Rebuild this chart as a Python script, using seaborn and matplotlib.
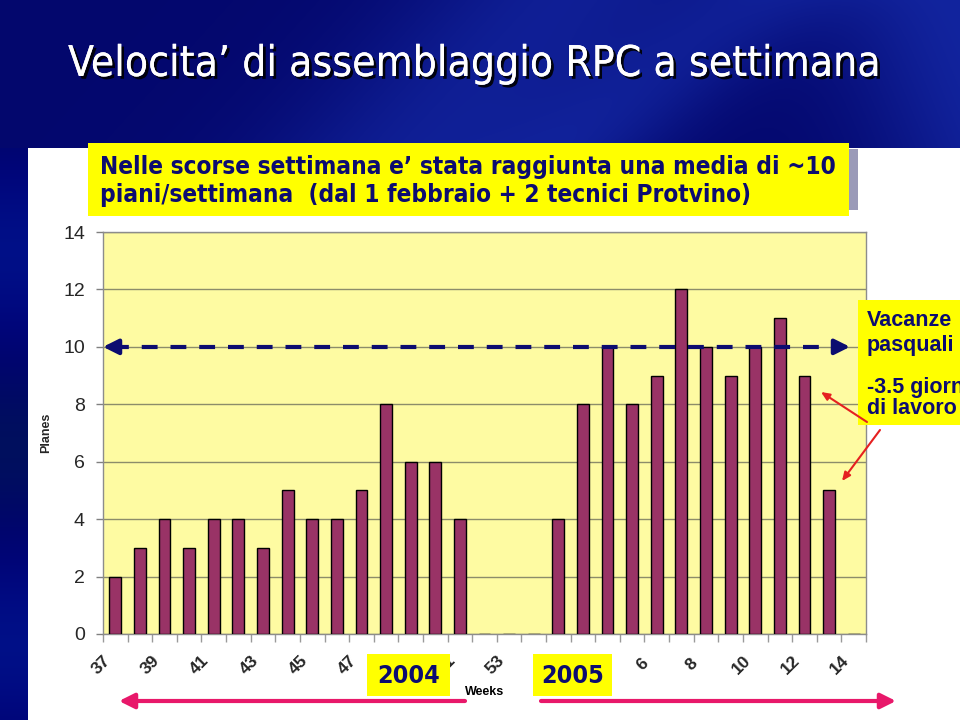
import numpy as np
import pandas as pd
import matplotlib
matplotlib.use("Agg")
import matplotlib.pyplot as plt
import seaborn as sns
from matplotlib import patheffects as pe
from matplotlib import transforms as mtrans
from matplotlib import font_manager as fm
from matplotlib.patches import Rectangle

# ---------------- data ----------------
weeks = ["37", "38", "39", "40", "41", "42", "43", "44", "45", "46", "47", "48",
         "49", "50", "51", "52", "53",
         "1", "2", "3", "4", "5", "6", "7", "8", "9", "10", "11", "12", "13", "14"]
planes = [2, 3, 4, 3, 4, 4, 3, 5, 4, 4, 5, 8, 6, 6, 4, 0, 0,
          0, 4, 8, 10, 8, 9, 12, 10, 9, 10, 11, 9, 5, 0]
y_ticks = [0, 2, 4, 6, 8, 10, 12, 14]
average = 10
title = "Velocita\u2019 di assemblaggio RPC a settimana"
subtitle = ("Nelle scorse settimana e\u2019 stata raggiunta una media di ~10\n"
            "piani/settimana  (dal 1 febbraio + 2 tecnici Protvino)")
note_lines = ["Vacanze", "pasquali", "-3.5 giorni", "di lavoro"]
year_labels = ["2004", "2005"]
x_label = "Weeks"
y_label = "Planes"

df = pd.DataFrame({"week": weeks, "planes": planes})

# ---------------- fonts ----------------
sns.set_style("white")
names = {f.name for f in fm.fontManager.ttflist}
if "Liberation Sans Narrow" in names:
    NARROW = dict(family=["Liberation Sans Narrow", "DejaVu Sans"])
else:
    NARROW = dict(family=["DejaVu Sans"], stretch="condensed")
plt.rcParams["font.family"] = ["Liberation Sans", "DejaVu Sans"]

NAVY = "#0C0C70"
BAR = "#993366"
PINK = "#E8186A"
RED = "#E52020"
YEL = "#FFFF00"

W, H = 960, 720
fig = plt.figure(figsize=(9.6, 7.2), dpi=100)
fig.patch.set_facecolor("white")

# ---------------- background (slide) ----------------
bg = fig.add_axes([0, 0, 1, 1], zorder=-5)
bg.set_xlim(0, W)
bg.set_ylim(H, 0)
bg.axis("off")
xx, yy = np.meshgrid(np.linspace(0, W, 480), np.linspace(0, 148, 80))
v = (0.15
     + 0.45 * np.exp(-((xx + 0.9 * yy - 560) / 160) ** 2)
     + 0.30 * np.exp(-((xx + 1.2 * yy - 760) / 90) ** 2)
     + 0.55 * np.exp(-((xx - 0.4 * yy - 960) / 140) ** 2))
v = np.clip(v, 0, 1)
dark = np.array([0.0, 0.0, 0.38])
bright = np.array([0.10, 0.20, 0.72])
img = dark[None, None, :] + v[..., None] * (bright - dark)[None, None, :]
bg.imshow(img, extent=[0, W, 148, 0], aspect="auto", interpolation="bilinear")
ys = np.linspace(0, 1, 100)
strip = np.zeros((100, 2, 3))
strip[:, :, 2] = (0.45 + 0.08 * np.sin(ys * 9))[:, None]
strip[:, :, 1] = (0.02 + 0.04 * np.sin(ys * 9) ** 2)[:, None]
bg.imshow(strip, extent=[0, 28, H, 148], aspect="auto", interpolation="bilinear")

# ---------------- main chart ----------------
ax = fig.add_axes([103 / W, 1 - 634 / H, 763 / W, 402 / H], zorder=1)
ax.set_facecolor("#FEFBA2")
sns.barplot(data=df, x="week", y="planes", order=weeks, color=BAR, saturation=1,
            edgecolor="black", linewidth=1.0, width=0.48, ax=ax, zorder=3)
ax.set_xlim(-0.5, len(weeks) - 0.5)
ax.set_ylim(0, 14)
ax.set_yticks(y_ticks)
ax.set_yticklabels([str(t) for t in y_ticks], fontsize=14)
ax.tick_params(axis="y", length=5, width=1, color="#808080", pad=8, left=True)
ax.yaxis.grid(True, color="#8C8C6A", lw=1)
ax.xaxis.grid(False)
ax.set_axisbelow(True)
for s in ax.spines.values():
    s.set_color("#8C8C8C")
    s.set_linewidth(1)

major = list(range(0, len(weeks), 2))
ax.set_xticks(major)
ax.set_xticklabels(weeks[::2], fontsize=12.5, fontweight="bold", rotation=45,
                   ha="center", va="center")
ax.set_xticks(np.arange(-0.5, len(weeks), 1), minor=True)
ax.tick_params(axis="x", which="major", length=0, pad=22)
ax.tick_params(axis="x", which="minor", length=6, width=1, color="#9A9A9A", bottom=True)
off = mtrans.ScaledTranslation(-14 / 100, 0, fig.dpi_scale_trans)
for lab in ax.get_xticklabels():
    lab.set_transform(lab.get_transform() + off)
ax.set_xlabel("")
ax.set_ylabel(y_label, fontsize=9, fontweight="bold")
ax.yaxis.set_label_coords(-0.067, 0.5)

# dashed average line with arrowheads
ax.plot([-0.1, 29.3], [average, average], color=NAVY, lw=3,
        dashes=(3.8, 3.1), solid_capstyle="butt", zorder=4, clip_on=False)
ax.annotate("", xy=(-0.5, average), xytext=(0.1, average),
            arrowprops=dict(arrowstyle="-|>,head_length=0.9,head_width=0.45",
                            color=NAVY, lw=3, shrinkA=0, shrinkB=0), zorder=5)
ax.annotate("", xy=(29.85, average), xytext=(29.25, average),
            arrowprops=dict(arrowstyle="-|>,head_length=0.9,head_width=0.45",
                            color=NAVY, lw=3, shrinkA=0, shrinkB=0), zorder=5)

# ---------------- overlay (pixel coords) ----------------
ov = fig.add_axes([0, 0, 1, 1], zorder=6)
ov.set_xlim(0, W)
ov.set_ylim(H, 0)
ov.axis("off")
ov.patch.set_alpha(0)

# title
ov.text(68, 64, title, color="white", fontsize=30.5, va="center", ha="left",
        path_effects=[pe.withSimplePatchShadow(offset=(2, -2), shadow_rgbFace="black", alpha=0.9),
                      pe.Normal()], **NARROW)

# subtitle box
ov.add_patch(Rectangle((849, 149), 9, 61, facecolor="#9A9AB8", edgecolor="none"))
ov.add_patch(Rectangle((88, 143), 761, 73, facecolor=YEL, edgecolor="none"))
ov.text(100, 181, subtitle, color=NAVY, fontsize=17.5, fontweight="bold", va="center",
        ha="left", linespacing=1.2, **NARROW)

# right note box
ov.add_patch(Rectangle((858, 300), 110, 125, facecolor=YEL, edgecolor="none"))
for txt, yc in zip(note_lines, [320, 346, 387, 409]):
    ov.text(867, yc, txt, color=NAVY, fontsize=15.5, fontweight="bold",
            va="center", ha="left")

# red arrows toward Easter weeks
for (x0, y0), (x1, y1) in [((867, 422), (821, 392)), ((880, 430), (842, 481))]:
    ov.annotate("", xy=(x1, y1), xytext=(x0, y0),
                arrowprops=dict(arrowstyle="-|>,head_length=0.5,head_width=0.22",
                                color=RED, lw=1.5, shrinkA=0, shrinkB=0))

# year boxes
for (x0, x1), lab in zip([(367, 450), (533, 612)], year_labels):
    ov.add_patch(Rectangle((x0, 654), x1 - x0, 42, facecolor=YEL, edgecolor="none"))
    ov.text((x0 + x1) / 2, 676, lab, color=NAVY, fontsize=18, fontweight="bold",
            ha="center", va="center", **NARROW)

ov.text(485, 692, x_label, fontsize=9, fontweight="bold", ha="center", va="center",
        color="black")

# pink year-span arrows
ov.annotate("", xy=(119, 701), xytext=(465, 701),
            arrowprops=dict(arrowstyle="-|>,head_length=0.9,head_width=0.45",
                            color=PINK, lw=3, shrinkA=0, shrinkB=0))
ov.annotate("", xy=(896, 701), xytext=(541, 701),
            arrowprops=dict(arrowstyle="-|>,head_length=0.9,head_width=0.45",
                            color=PINK, lw=3, shrinkA=0, shrinkB=0))

fig.savefig("out.png", dpi=100)
